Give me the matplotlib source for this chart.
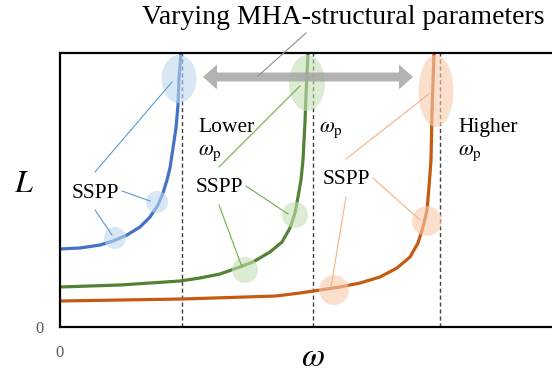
import numpy as np
import matplotlib
matplotlib.use("Agg")
import matplotlib.pyplot as plt
from matplotlib.patches import Ellipse

plt.rcParams['font.family'] = ['Liberation Serif', 'DejaVu Serif']
plt.rcParams['mathtext.fontset'] = 'stix'

# Dispersion curves L(omega) for three MHA structures
omega_blue = [0.00, 0.20, 0.40, 0.53, 0.67, 0.80, 0.90, 0.98, 1.03, 1.07,
              1.10, 1.13, 1.16, 1.18, 1.19, 1.21]
L_blue = [0.78, 0.79, 0.82, 0.86, 0.92, 1.00, 1.10, 1.22, 1.34, 1.47,
          1.59, 1.79, 1.99, 2.22, 2.49, 2.74]

omega_green = [0.00, 0.60, 1.20, 1.40, 1.60, 1.77, 1.93, 2.10, 2.22, 2.30,
               2.35, 2.38, 2.41, 2.43, 2.45, 2.46, 2.48]
L_green = [0.40, 0.42, 0.46, 0.49, 0.53, 0.59, 0.65, 0.75, 0.85, 0.99,
           1.14, 1.30, 1.47, 1.67, 2.05, 2.32, 2.74]

omega_orange = [0.00, 1.23, 2.16, 2.40, 2.60, 2.80, 3.00, 3.20, 3.37, 3.50,
                3.58, 3.63, 3.67, 3.69, 3.71, 3.72, 3.74]
L_orange = [0.26, 0.28, 0.31, 0.34, 0.37, 0.40, 0.44, 0.50, 0.59, 0.70,
            0.84, 1.00, 1.17, 1.40, 1.67, 2.15, 2.74]

# plasma frequencies (dashed lines)
omega_p = [1.22, 2.53, 3.80]

# SSPP spots on each curve (omega, L) and the spot near omega_p
sspp_blue = [(0.55, 0.89), (0.97, 1.25)]
sspp_green = [(1.85, 0.57), (2.35, 1.12)]
sspp_orange = [(2.74, 0.37), (3.67, 1.06)]
peak_blue = (1.19, 2.48)
peak_green = (2.47, 2.44)
peak_orange = (3.76, 2.36)

# where the SSPP labels sit
label_blue = (0.35, 1.34)
label_green = (1.59, 1.39)
label_orange = (2.86, 1.47)

fig = plt.figure(figsize=(5.52, 3.73), dpi=100)
ax = fig.add_axes([60/552, 46/373, 500/552, 274/373])
ax.set_xlim(0, 5.0)
ax.set_ylim(0, 2.74)

for s in ['left', 'top', 'bottom']:
    ax.spines[s].set_linewidth(1.6)
ax.spines['right'].set_visible(False)

ax.set_xticks([0])
ax.set_xticklabels(['0'])
ax.set_yticks([0])
ax.set_yticklabels(['0'])
ax.tick_params(length=0, labelsize=12, labelcolor='#595959')
ax.tick_params(axis='x', pad=13)
ax.tick_params(axis='y', pad=12)

# dashed plasma-frequency lines
for wp in omega_p:
    ax.axvline(wp, color='#404040', lw=1.0, ls=(0, (3, 2)), zorder=1)

curves = [
    (omega_blue, L_blue, '#4472C4', '#BDD7EE', '#5B9BD5', sspp_blue, peak_blue, (0.35, 0.48), label_blue, 0.11),
    (omega_green, L_green, '#548235', '#C5E0B4', '#70AD47', sspp_green, peak_green, (0.36, 0.56), label_green, 0.13),
    (omega_orange, L_orange, '#C55A11', '#F8CBAD', '#F4B183', sspp_orange, peak_orange, (0.35, 0.72), label_orange, 0.15),
]

for w, L, col, light, lead, spots, peak, pk_size, lab, r in curves:
    ax.plot(w, L, color=col, lw=2.3, zorder=2, solid_capstyle='butt', solid_joinstyle='round')
    for (x, y) in spots:
        ax.add_patch(plt.Circle((x, y), r, color=light, alpha=0.6, lw=0, zorder=3))
    ax.add_patch(Ellipse(peak, pk_size[0], pk_size[1], color=light, alpha=0.6, lw=0, zorder=3))
    ax.text(lab[0], lab[1], 'SSPP', fontsize=15.5, ha='center', va='center', zorder=5)
    # leader lines from label to the highlighted spots
    lx, ly = lab
    ax.plot([lx, peak[0] - 0.07], [ly + 0.21, peak[1] - 0.03], color=lead, lw=0.8, zorder=4)
    ax.plot([lx + 0.27, spots[1][0] - 0.07], [ly + 0.02, spots[1][1] + 0.01], color=lead, lw=0.8, zorder=4)
    ax.plot([lx, spots[0][0] - 0.03], [ly - 0.17, spots[0][1] + 0.03], color=lead, lw=0.8, zorder=4)

# double arrow for varying parameters
ax.arrow(2.48, 2.50, -1.05, 0, width=0.09, head_width=0.25, head_length=0.14,
         length_includes_head=True, color='#A6A6A6', alpha=0.85, lw=0, zorder=4)
ax.arrow(2.48, 2.50, 1.05, 0, width=0.09, head_width=0.25, head_length=0.14,
         length_includes_head=True, color='#A6A6A6', alpha=0.85, lw=0, zorder=4)
ax.plot([2.46, 1.98], [2.94, 2.51], color='#8C8C8C', lw=0.8, clip_on=False, zorder=4)

ax.text(2.83, 3.09, 'Varying MHA-structural parameters', fontsize=20,
        ha='center', va='center', clip_on=False)

ax.text(1.38, 1.95, 'Lower', fontsize=15.5, ha='left', va='baseline')
ax.text(1.38, 1.72, r'$\omega_{\rm p}$', fontsize=15.5, ha='left', va='baseline')
ax.text(2.59, 1.95, r'$\omega_{\rm p}$', fontsize=15.5, ha='left', va='baseline')
ax.text(3.98, 1.95, 'Higher', fontsize=15.5, ha='left', va='baseline')
ax.text(3.98, 1.72, r'$\omega_{\rm p}$', fontsize=15.5, ha='left', va='baseline')

ax.text(-0.36, 1.43, r'$L$', fontsize=23, ha='center', va='center', clip_on=False)
ax.text(2.53, -0.31, r'$\omega$', fontsize=24, ha='center', va='center', clip_on=False)

fig.savefig('out.png', dpi=100)
